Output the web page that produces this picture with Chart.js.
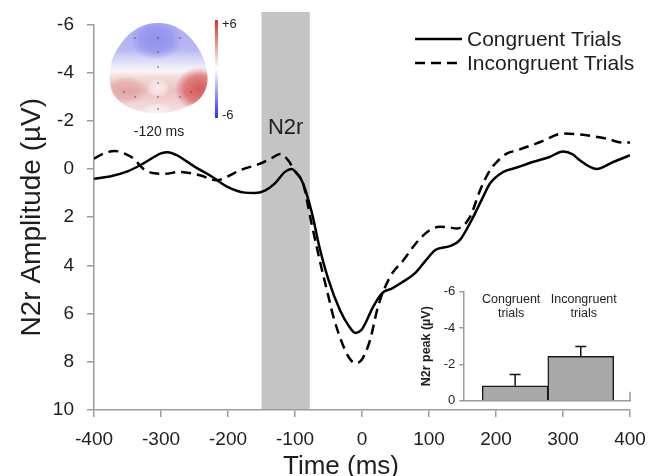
<!DOCTYPE html>
<html>
<head>
<meta charset="utf-8">
<script src="https://cdn.jsdelivr.net/npm/chart.js@4.4.0/dist/chart.umd.min.js"></script>
<style>
html, body { margin: 0; padding: 0; background: #fff; }
#wrap { position: relative; width: 660px; height: 476px; overflow: hidden; }
#main { position: absolute; left: 0; top: 0; }
#inset { position: absolute; left: 400px; top: 280px; }
</style>
</head>
<body>
<div id="wrap">
  <canvas id="main" width="660" height="476"></canvas>
  <canvas id="inset" width="240" height="140"></canvas>
</div>
<script>
// ERP waveforms (ms, µV)
const congruentTimes = [-400, -375, -350, -325, -300, -290, -275, -250, -225, -200, -175, -160, -145, -130, -115, -105, -95, -88, -75, -63, -50, -33, -20, -10, 0, 17, 30, 45, 60, 80, 95, 110, 131, 146, 164, 180, 191, 211, 230, 256, 280, 300, 315, 325, 350, 375, 400];
const congruentAmp = [0.4, 0.3, 0.1, -0.25, -0.65, -0.7, -0.55, -0.1, 0.3, 0.75, 0.98, 1.0, 0.9, 0.6, 0.12, 0.0, 0.25, 0.6, 1.8, 3.3, 4.6, 5.85, 6.5, 6.8, 6.65, 5.7, 5.15, 4.95, 4.7, 4.3, 3.8, 3.35, 3.2, 2.95, 2.1, 1.2, 0.6, 0.12, -0.05, -0.3, -0.5, -0.73, -0.6, -0.36, 0.0, -0.29, -0.57];

const incongruentTimes = [-400, -385, -369, -355, -341, -326, -310, -295, -272, -242, -217, -200, -182, -152, -135, -122, -110, -100, -88, -75, -63, -50, -43, -30, -20, -10, 0, 12, 24, 42, 62, 80, 101, 116, 130, 141, 161, 176, 191, 201, 216, 231, 266, 300, 335, 365, 390, 400];
const incongruentAmp = [-0.43, -0.65, -0.75, -0.65, -0.43, 0.0, 0.18, 0.2, 0.12, 0.26, 0.47, 0.3, 0.05, -0.22, -0.45, -0.62, -0.35, 0.1, 0.6, 2.3, 3.8, 5.3, 6.1, 7.2, 7.8, 8.06, 7.9, 7.1, 5.7, 4.47, 3.78, 3.1, 2.54, 2.4, 2.42, 2.47, 2.0, 0.9, 0.05, -0.29, -0.64, -0.77, -1.12, -1.47, -1.4, -1.26, -1.09, -1.1];

const seriesNames = ['Congruent Trials', 'Incongruent Trials'];
const n2rWindow = [-150, -78];

// inset: N2r peak per condition
const peakLabels = [['Congruent', 'trials'], ['Incongruent', 'trials']];
const peakX = [1, 2];
const peakMean = [-0.82, -2.44];
const peakErr = [0.63, 0.54];

const FONT = 'Liberation Sans, Arial, sans-serif';
const AXIS = '#9c9c9c';
const INK = '#1e1e1e';

function drawTopo(ctx) {
    ctx.save();
    ctx.beginPath();
    ctx.moveTo(158, 23);
    ctx.bezierCurveTo(182, 23, 197, 42, 204, 60);
    ctx.bezierCurveTo(210, 76, 209, 92, 196, 102);
    ctx.bezierCurveTo(184, 110, 170, 113, 158, 113);
    ctx.bezierCurveTo(144, 113, 130, 110, 120, 102);
    ctx.bezierCurveTo(108, 92, 108, 76, 112, 60);
    ctx.bezierCurveTo(119, 42, 134, 23, 158, 23);
    ctx.closePath();
    ctx.save();
    ctx.clip();
    let g = ctx.createLinearGradient(0, 23, 0, 113);
    g.addColorStop(0, '#acacf2');
    g.addColorStop(0.3, '#b8b8f4');
    g.addColorStop(0.38, '#d2d2f8');
    g.addColorStop(0.48, '#eaeafb');
    g.addColorStop(0.54, '#fbf4f4');
    g.addColorStop(0.6, '#f3dada');
    g.addColorStop(0.75, '#ebc0c0');
    g.addColorStop(0.88, '#f0d2d2');
    g.addColorStop(1, '#f6e6e6');
    ctx.fillStyle = g;
    ctx.fillRect(100, 15, 120, 105);
    const blob = (x, y, rx, ry, c0) => {
        ctx.save();
        ctx.translate(x, y);
        ctx.scale(1, ry / rx);
        const rg = ctx.createRadialGradient(0, 0, 0, 0, 0, rx);
        rg.addColorStop(0, c0);
        rg.addColorStop(0.6, c0.replace(/[\d.]+\)$/, m => (parseFloat(m) * 0.7) + ')'));
        rg.addColorStop(1, c0.replace(/[\d.]+\)$/, '0)'));
        ctx.fillStyle = rg;
        ctx.fillRect(-rx, -rx, 2 * rx, 2 * rx);
        ctx.restore();
    };
    blob(156, 40, 26, 20, 'rgba(138,138,236,0.85)');
    blob(199, 89, 24, 22, 'rgba(212,80,80,0.9)');
    blob(126, 90, 22, 14, 'rgba(220,146,146,0.6)');
    blob(158, 88, 12, 10, 'rgba(252,240,240,0.85)');
    blob(158, 111, 16, 8, 'rgba(252,242,242,0.75)');
    ctx.restore();
    ctx.fillStyle = '#333';
    [[135, 38], [158, 38], [180, 38], [158, 52], [158, 67], [158, 83], [124, 92], [135, 97], [158, 97], [180, 97], [191, 92], [158, 109]].forEach(p => {
        ctx.fillRect(p[0] - 0.6, p[1] - 0.6, 1.2, 1.2);
    });
    // color bar
    const cb = ctx.createLinearGradient(0, 20, 0, 118);
    cb.addColorStop(0, '#e02a2a');
    cb.addColorStop(0.5, '#ffffff');
    cb.addColorStop(1, '#2a2aff');
    ctx.fillStyle = cb;
    ctx.fillRect(215, 20, 3, 98);
    ctx.fillStyle = INK;
    ctx.font = '13px ' + FONT;
    ctx.textAlign = 'left';
    ctx.textBaseline = 'middle';
    ctx.fillText('+6', 222, 24);
    ctx.fillText('-6', 222, 115);
    ctx.font = '14px ' + FONT;
    ctx.textAlign = 'center';
    ctx.fillText('-120 ms', 159, 132);
    ctx.restore();
}

const mainPlugin = {
    id: 'mainExtras',
    beforeDatasetsDraw(chart) {
        const ctx = chart.ctx;
        const x = chart.scales.x;
        const a = chart.chartArea;
        const x0 = x.getPixelForValue(n2rWindow[0]);
        const x1 = x.getPixelForValue(n2rWindow[1]);
        ctx.save();
        ctx.fillStyle = '#c4c4c4';
        ctx.fillRect(x0, 12, x1 - x0, a.bottom - 12 - 1);
        ctx.fillStyle = INK;
        ctx.font = '22px ' + FONT;
        ctx.textAlign = 'center';
        ctx.textBaseline = 'middle';
        ctx.fillText('N2r', (x0 + x1) / 2, 128);
        ctx.restore();
    },
    afterDraw(chart) {
        const ctx = chart.ctx;
        drawTopo(ctx);
        ctx.save();
        // legend
        ctx.strokeStyle = '#000';
        ctx.lineWidth = 2.5;
        ctx.beginPath();
        ctx.moveTo(415, 39);
        ctx.lineTo(462, 39);
        ctx.stroke();
        ctx.setLineDash([10, 6]);
        ctx.beginPath();
        ctx.moveTo(415, 63);
        ctx.lineTo(462, 63);
        ctx.stroke();
        ctx.setLineDash([]);
        ctx.fillStyle = INK;
        ctx.font = '21px ' + FONT;
        ctx.textAlign = 'left';
        ctx.textBaseline = 'middle';
        ctx.fillText(seriesNames[0], 467, 40);
        ctx.fillText(seriesNames[1], 467, 64);
        // x title
        ctx.font = '26px ' + FONT;
        ctx.textAlign = 'center';
        ctx.textBaseline = 'alphabetic';
        ctx.fillText('Time (ms)', 341, 474);
        ctx.restore();
    }
};

new Chart(document.getElementById('main'), {
    type: 'line',
    data: {
        datasets: [
            {
                label: seriesNames[0],
                data: congruentTimes.map((t, i) => ({ x: t, y: congruentAmp[i] })),
                borderColor: '#000',
                borderWidth: 2.5,
                pointRadius: 0,
                cubicInterpolationMode: 'monotone'
            },
            {
                label: seriesNames[1],
                data: incongruentTimes.map((t, i) => ({ x: t, y: incongruentAmp[i] })),
                borderColor: '#000',
                borderWidth: 2.5,
                borderDash: [10, 6],
                pointRadius: 0,
                cubicInterpolationMode: 'monotone'
            }
        ]
    },
    options: {
        responsive: false,
        animation: false,
        layout: { padding: { top: 24, right: 30, bottom: 0, left: 0 } },
        plugins: { legend: { display: false }, tooltip: { enabled: false } },
        scales: {
            x: {
                type: 'linear',
                min: -400,
                max: 400,
                ticks: { stepSize: 100, color: INK, font: { family: FONT, size: 19 }, padding: 11, maxRotation: 0 },
                grid: { drawOnChartArea: false, tickLength: 7, color: AXIS, lineWidth: 1.5 },
                border: { color: AXIS, width: 1.5 },
                afterFit: s => { s.height = 66; }
            },
            y: {
                reverse: true,
                min: -6,
                max: 10,
                ticks: { stepSize: 2, color: INK, font: { family: FONT, size: 19 }, padding: 13 },
                grid: { drawOnChartArea: false, tickLength: 7, color: AXIS, lineWidth: 1.5 },
                border: { color: AXIS, width: 1.5 },
                title: { display: true, text: 'N2r Amplitude (µV)', color: INK, font: { family: FONT, size: 28 }, padding: { top: 15, bottom: 0 } },
                afterFit: s => { s.width = 94; }
            }
        }
    },
    plugins: [mainPlugin]
});

const insetPlugin = {
    id: 'insetExtras',
    afterDatasetsDraw(chart) {
        const ctx = chart.ctx;
        const x = chart.scales.x;
        const y = chart.scales.y;
        const a = chart.chartArea;
        ctx.save();
        ctx.strokeStyle = '#111';
        ctx.lineWidth = 1.5;
        peakX.forEach((v, i) => {
            const px = x.getPixelForValue(v);
            const y0 = y.getPixelForValue(peakMean[i]);
            const y1 = y.getPixelForValue(peakMean[i] - peakErr[i]);
            ctx.beginPath();
            ctx.moveTo(px, y0);
            ctx.lineTo(px, y1);
            ctx.moveTo(px - 5.5, y1);
            ctx.lineTo(px + 5.5, y1);
            ctx.stroke();
        });
        ctx.strokeStyle = AXIS;
        ctx.beginPath();
        ctx.moveTo(a.right, a.bottom);
        ctx.lineTo(a.right, a.bottom - 9);
        ctx.stroke();
        ctx.fillStyle = INK;
        ctx.font = '12.5px ' + FONT;
        ctx.textAlign = 'center';
        ctx.textBaseline = 'middle';
        peakX.forEach((v, i) => {
            const px = x.getPixelForValue(v) - (i === 0 ? 4 : -3);
            ctx.fillText(peakLabels[i][0], px, 20);
            ctx.fillText(peakLabels[i][1], px, 34);
        });
        ctx.restore();
    }
};

new Chart(document.getElementById('inset'), {
    type: 'bar',
    data: {
        datasets: [{
            data: peakX.map((v, i) => ({ x: v, y: peakMean[i] })),
            backgroundColor: '#a9a9a9',
            borderColor: '#1a1a1a',
            borderWidth: 1.5,
            barThickness: 66
        }]
    },
    options: {
        responsive: false,
        animation: false,
        layout: { padding: { top: 10.7, right: 10, bottom: 19.3, left: 0 } },
        plugins: { legend: { display: false }, tooltip: { enabled: false } },
        scales: {
            x: {
                type: 'linear',
                offset: false,
                min: 0.21,
                max: 2.75,
                ticks: { display: false },
                grid: { display: false },
                border: { color: AXIS, width: 1.5 },
                afterFit: s => { s.height = 0; }
            },
            y: {
                reverse: true,
                min: -6,
                max: 0,
                ticks: { stepSize: 2, color: INK, font: { family: FONT, size: 13 }, padding: 4 },
                grid: { drawOnChartArea: false, tickLength: 4, color: AXIS, lineWidth: 1.5 },
                border: { color: AXIS, width: 1.5 },
                title: { display: true, text: 'N2r peak (µV)', color: INK, font: { family: FONT, size: 12.5, weight: 'bold' }, padding: { top: 19, bottom: 0 } },
                afterFit: s => { s.width = 63.3; }
            }
        }
    },
    plugins: [insetPlugin]
});
</script>
</body>
</html>
